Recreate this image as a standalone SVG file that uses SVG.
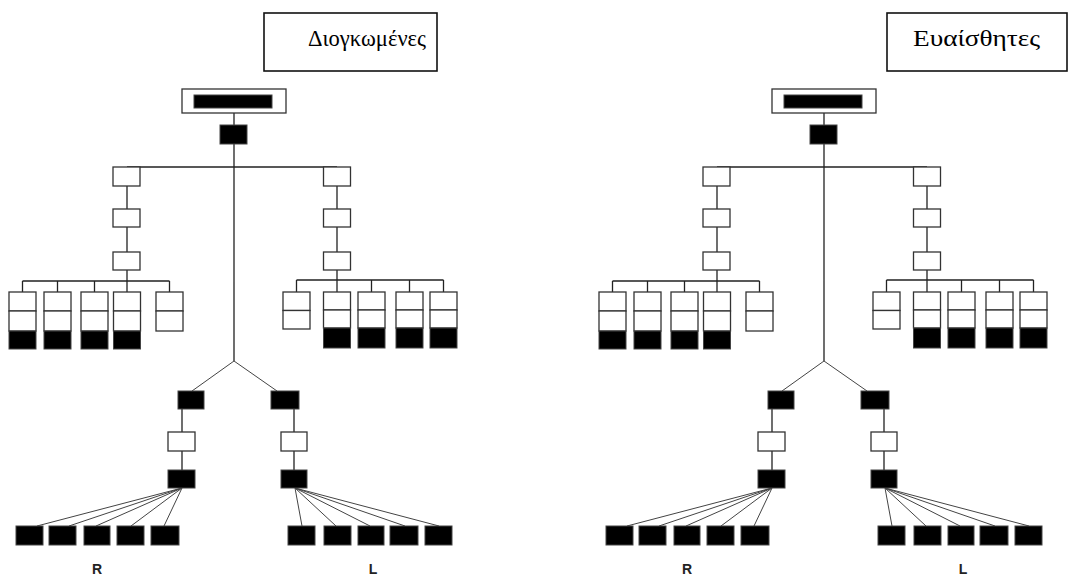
<svg xmlns="http://www.w3.org/2000/svg" width="1068" height="576" viewBox="0 0 1068 576">
  <style>
    .w { fill: #fff; stroke: #333; stroke-width: 1.3; }
    .k { fill: #000; stroke: #444; stroke-width: 1; }
    .frame { fill: #fff; stroke: #111; stroke-width: 1.6; }
    .ln { fill: none; stroke: #222; stroke-width: 1.3; }
    .fan { fill: none; stroke: #444; stroke-width: 1; }
    .title { font-family: "Liberation Serif", "Times New Roman", "DejaVu Serif", serif; font-size: 23px; fill: #000; }
    .lbl { font-family: "Liberation Sans", Arial, sans-serif; font-weight: bold; font-size: 14px; fill: #222; text-anchor: middle; }
  </style>
  <rect width="1068" height="576" fill="#fff"/>

  <!-- Titles -->
  <g id="title-a">
    <rect class="frame" x="264" y="13" width="173" height="58"/>
    <text class="title" x="308" y="46" textLength="118" lengthAdjust="spacingAndGlyphs">Διογκωμένες</text>
  </g>
  <g id="title-b">
    <rect class="frame" x="887" y="13" width="180" height="58"/>
    <text class="title" x="913" y="46" textLength="127" lengthAdjust="spacingAndGlyphs">Ευαίσθητες</text>
  </g>

  <!-- Tree A -->
  <g id="tree-a">
    <g id="a-connectors">
      <path class="ln" d="M234,113V125 M234,144V361 M127,167H337 M127,186V209 M127,227V252 M127,270V281 M22.5,281H169.5 M22.5,281V292 M57.5,281V292 M94.5,281V292 M127,281V292 M169.5,281V292 M337,186V209 M337,227V252 M337,270V280 M296.5,280H443.5 M296.5,280V292 M337,280V292 M371.5,280V292 M409.5,280V292 M443.5,280V292 M182,409V432 M182,451V470 M294,409V432 M294,451V470"/>
      <path class="fan" d="M234,361L192,391 M234,361L277,391"/>
      <path class="fan" d="M182,488L37,526 M182,488L69,526 M182,488L96,526 M182,488L131,526 M182,488L164,526 M295,488L302,526 M295,488L336,526 M295,488L370,526 M295,488L405,526 M295,488L439,526"/>
    </g>
    <g id="a-root"><rect class="w" x="182" y="89" width="104" height="24"/><rect class="k" x="194" y="95" width="78" height="13"/></g>
    <g id="a-hub"><rect class="k" x="220" y="125" width="27" height="19"/></g>
    <g id="a-l1"><rect class="w" x="113" y="167" width="27" height="19"/></g>
    <g id="a-l2"><rect class="w" x="113" y="209" width="27" height="18"/></g>
    <g id="a-l3"><rect class="w" x="113" y="252" width="27" height="18"/></g>
    <g id="a-lc1"><rect class="w" x="9" y="292" width="27" height="19"/><rect class="w" x="9" y="311" width="27" height="20"/><rect class="k" x="9" y="331" width="27" height="18"/></g>
    <g id="a-lc2"><rect class="w" x="44" y="292" width="27" height="19"/><rect class="w" x="44" y="311" width="27" height="20"/><rect class="k" x="44" y="331" width="27" height="18"/></g>
    <g id="a-lc3"><rect class="w" x="81" y="292" width="27" height="19"/><rect class="w" x="81" y="311" width="27" height="20"/><rect class="k" x="81" y="331" width="27" height="18"/></g>
    <g id="a-lc4"><rect class="w" x="113.5" y="292" width="27" height="19"/><rect class="w" x="113.5" y="311" width="27" height="20"/><rect class="k" x="113.5" y="331" width="27" height="18"/></g>
    <g id="a-lc5"><rect class="w" x="156" y="292" width="27" height="19"/><rect class="w" x="156" y="311" width="27" height="20"/></g>
    <g id="a-r1"><rect class="w" x="323.5" y="167" width="27" height="19"/></g>
    <g id="a-r2"><rect class="w" x="323.5" y="209" width="27" height="18"/></g>
    <g id="a-r3"><rect class="w" x="323.5" y="252" width="27" height="18"/></g>
    <g id="a-rc1"><rect class="w" x="283" y="292" width="27" height="18.5"/><rect class="w" x="283" y="310.5" width="27" height="18.5"/></g>
    <g id="a-rc2"><rect class="w" x="323.5" y="292" width="27" height="18"/><rect class="w" x="323.5" y="310" width="27" height="18"/><rect class="k" x="323.5" y="328" width="27" height="20"/></g>
    <g id="a-rc3"><rect class="w" x="358" y="292" width="27" height="18"/><rect class="w" x="358" y="310" width="27" height="18"/><rect class="k" x="358" y="328" width="27" height="20"/></g>
    <g id="a-rc4"><rect class="w" x="396" y="292" width="27" height="18"/><rect class="w" x="396" y="310" width="27" height="18"/><rect class="k" x="396" y="328" width="27" height="20"/></g>
    <g id="a-rc5"><rect class="w" x="430" y="292" width="27" height="18"/><rect class="w" x="430" y="310" width="27" height="18"/><rect class="k" x="430" y="328" width="27" height="20"/></g>
    <g id="a-R1"><rect class="k" x="178" y="391" width="26" height="18"/></g>
    <g id="a-R2"><rect class="w" x="168" y="432" width="27" height="19"/></g>
    <g id="a-R3"><rect class="k" x="168" y="470" width="27" height="18"/></g>
    <g id="a-Rleaves"><rect class="k" x="16" y="526" width="27" height="19"/><rect class="k" x="49" y="526" width="27" height="19"/><rect class="k" x="84" y="526" width="26" height="19"/><rect class="k" x="117" y="526" width="27" height="19"/><rect class="k" x="151" y="526" width="28" height="19"/></g>
    <g id="a-L1"><rect class="k" x="271" y="391" width="28" height="18"/></g>
    <g id="a-L2"><rect class="w" x="281" y="432" width="26" height="19"/></g>
    <g id="a-L3"><rect class="k" x="281" y="470" width="26" height="18"/></g>
    <g id="a-Lleaves"><rect class="k" x="288" y="526" width="27" height="19"/><rect class="k" x="324" y="526" width="27" height="19"/><rect class="k" x="358" y="526" width="26" height="19"/><rect class="k" x="390" y="526" width="28" height="19"/><rect class="k" x="425" y="526" width="27" height="19"/></g>
    <text class="lbl" x="97" y="574">R</text>
    <text class="lbl" x="373" y="574">L</text>
  </g>

  <!-- Tree B -->
  <g id="tree-b" transform="translate(590,0)">
    <g id="b-connectors">
      <path class="ln" d="M234,113V125 M234,144V361 M127,167H337 M127,186V209 M127,227V252 M127,270V281 M22.5,281H169.5 M22.5,281V292 M57.5,281V292 M94.5,281V292 M127,281V292 M169.5,281V292 M337,186V209 M337,227V252 M337,270V280 M296.5,280H443.5 M296.5,280V292 M337,280V292 M371.5,280V292 M409.5,280V292 M443.5,280V292 M182,409V432 M182,451V470 M294,409V432 M294,451V470"/>
      <path class="fan" d="M234,361L192,391 M234,361L277,391"/>
      <path class="fan" d="M182,488L37,526 M182,488L69,526 M182,488L96,526 M182,488L131,526 M182,488L164,526 M295,488L302,526 M295,488L336,526 M295,488L370,526 M295,488L405,526 M295,488L439,526"/>
    </g>
    <g id="b-root"><rect class="w" x="182" y="89" width="104" height="24"/><rect class="k" x="194" y="95" width="78" height="13"/></g>
    <g id="b-hub"><rect class="k" x="220" y="125" width="27" height="19"/></g>
    <g id="b-l1"><rect class="w" x="113" y="167" width="27" height="19"/></g>
    <g id="b-l2"><rect class="w" x="113" y="209" width="27" height="18"/></g>
    <g id="b-l3"><rect class="w" x="113" y="252" width="27" height="18"/></g>
    <g id="b-lc1"><rect class="w" x="9" y="292" width="27" height="19"/><rect class="w" x="9" y="311" width="27" height="20"/><rect class="k" x="9" y="331" width="27" height="18"/></g>
    <g id="b-lc2"><rect class="w" x="44" y="292" width="27" height="19"/><rect class="w" x="44" y="311" width="27" height="20"/><rect class="k" x="44" y="331" width="27" height="18"/></g>
    <g id="b-lc3"><rect class="w" x="81" y="292" width="27" height="19"/><rect class="w" x="81" y="311" width="27" height="20"/><rect class="k" x="81" y="331" width="27" height="18"/></g>
    <g id="b-lc4"><rect class="w" x="113.5" y="292" width="27" height="19"/><rect class="w" x="113.5" y="311" width="27" height="20"/><rect class="k" x="113.5" y="331" width="27" height="18"/></g>
    <g id="b-lc5"><rect class="w" x="156" y="292" width="27" height="19"/><rect class="w" x="156" y="311" width="27" height="20"/></g>
    <g id="b-r1"><rect class="w" x="323.5" y="167" width="27" height="19"/></g>
    <g id="b-r2"><rect class="w" x="323.5" y="209" width="27" height="18"/></g>
    <g id="b-r3"><rect class="w" x="323.5" y="252" width="27" height="18"/></g>
    <g id="b-rc1"><rect class="w" x="283" y="292" width="27" height="18.5"/><rect class="w" x="283" y="310.5" width="27" height="18.5"/></g>
    <g id="b-rc2"><rect class="w" x="323.5" y="292" width="27" height="18"/><rect class="w" x="323.5" y="310" width="27" height="18"/><rect class="k" x="323.5" y="328" width="27" height="20"/></g>
    <g id="b-rc3"><rect class="w" x="358" y="292" width="27" height="18"/><rect class="w" x="358" y="310" width="27" height="18"/><rect class="k" x="358" y="328" width="27" height="20"/></g>
    <g id="b-rc4"><rect class="w" x="396" y="292" width="27" height="18"/><rect class="w" x="396" y="310" width="27" height="18"/><rect class="k" x="396" y="328" width="27" height="20"/></g>
    <g id="b-rc5"><rect class="w" x="430" y="292" width="27" height="18"/><rect class="w" x="430" y="310" width="27" height="18"/><rect class="k" x="430" y="328" width="27" height="20"/></g>
    <g id="b-R1"><rect class="k" x="178" y="391" width="26" height="18"/></g>
    <g id="b-R2"><rect class="w" x="168" y="432" width="27" height="19"/></g>
    <g id="b-R3"><rect class="k" x="168" y="470" width="27" height="18"/></g>
    <g id="b-Rleaves"><rect class="k" x="16" y="526" width="27" height="19"/><rect class="k" x="49" y="526" width="27" height="19"/><rect class="k" x="84" y="526" width="26" height="19"/><rect class="k" x="117" y="526" width="27" height="19"/><rect class="k" x="151" y="526" width="28" height="19"/></g>
    <g id="b-L1"><rect class="k" x="271" y="391" width="28" height="18"/></g>
    <g id="b-L2"><rect class="w" x="281" y="432" width="26" height="19"/></g>
    <g id="b-L3"><rect class="k" x="281" y="470" width="26" height="18"/></g>
    <g id="b-Lleaves"><rect class="k" x="288" y="526" width="27" height="19"/><rect class="k" x="324" y="526" width="27" height="19"/><rect class="k" x="358" y="526" width="26" height="19"/><rect class="k" x="390" y="526" width="28" height="19"/><rect class="k" x="425" y="526" width="27" height="19"/></g>
    <text class="lbl" x="97" y="574">R</text>
    <text class="lbl" x="373" y="574">L</text>
  </g>
</svg>
